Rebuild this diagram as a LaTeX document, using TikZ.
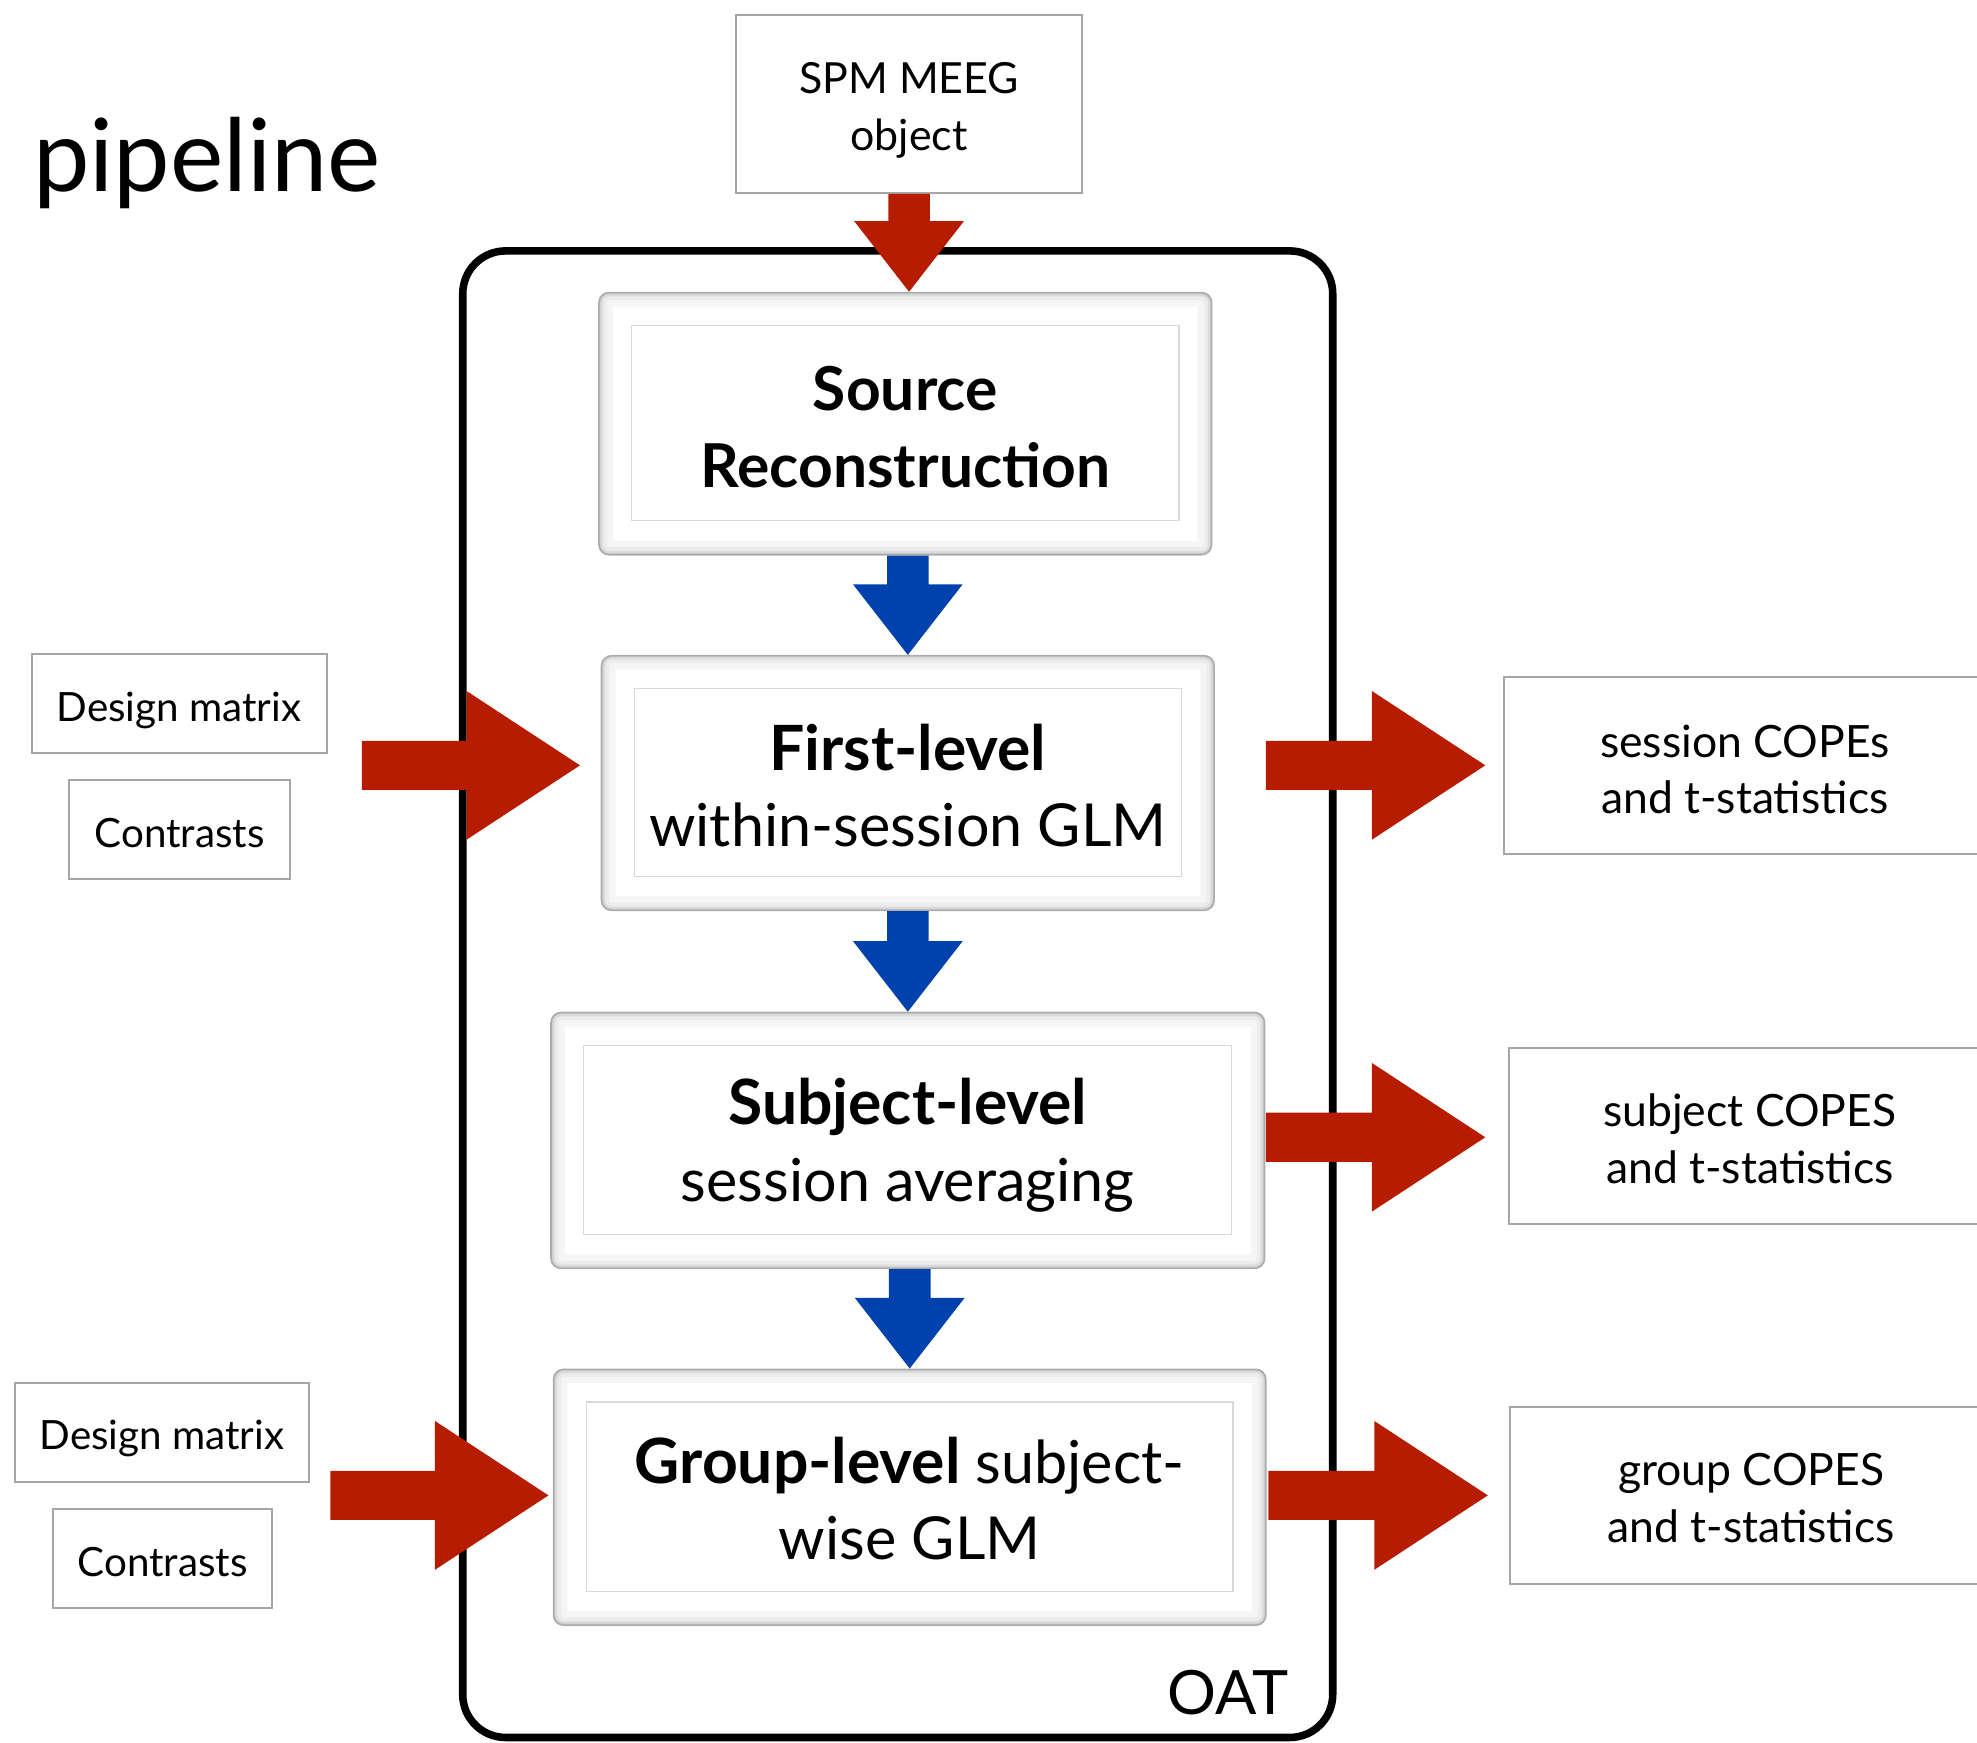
\documentclass[tikz,border=0pt]{standalone}
\usepackage{fontspec}
\setmainfont{Lato}
\usetikzlibrary{calc}
\definecolor{redA}{RGB}{181,28,0}
\definecolor{blueA}{RGB}{0,66,173}
\newcommand\myRarrow[3]{\fill[#3] let \p1=(#1), \p2=(#2) in
  (\x1,\y2+19.5pt) -- (\x2-90pt,\y2+19.5pt) -- (\x2-90pt,\y2+59pt) -- (\x2,\y2) --
  (\x2-90pt,\y2-59pt) -- (\x2-90pt,\y2-19.5pt) -- (\x1,\y2-19.5pt) -- cycle;}
\newcommand\myDarrow[3]{\fill[#3] let \p1=(#1), \p2=(#2) in
  (\x2-16.5pt,\y1) -- (\x2-16.5pt,\y2+56pt) -- (\x2-43.5pt,\y2+56pt) -- (\x2,\y2) --
  (\x2+43.5pt,\y2+56pt) -- (\x2+16.5pt,\y2+56pt) -- (\x2+16.5pt,\y1) -- cycle;}
\newcommand\lowtxt[2][-4pt]{\raisebox{#1}[\height][\depth]{\begin{tabular}{@{}c@{}}#2\end{tabular}}}
\newcommand\bigb{\fontsize{49.5}{61}\selectfont\bfseries}
\newcommand\srcb{\fontsize{48}{61}\selectfont\bfseries}
\begin{document}
\begin{tikzpicture}[x=1pt,y=-1pt,
  procbox/.style={rectangle, rounded corners=8pt, fill=white, draw=gray!65, line width=1.2pt, inner sep=0pt,
    path picture={
      \draw[gray!8, line width=22pt, rounded corners=8pt] (path picture bounding box.south west) rectangle (path picture bounding box.north east);
      \draw[gray!15, line width=12pt, rounded corners=8pt] (path picture bounding box.south west) rectangle (path picture bounding box.north east);
      \draw[gray!28, line width=6pt, rounded corners=8pt] (path picture bounding box.south west) rectangle (path picture bounding box.north east);
      \draw[gray!45, line width=2.5pt, rounded corners=8pt] (path picture bounding box.south west) rectangle (path picture bounding box.north east);
    }},
  innerbox/.style={rectangle, draw=gray!30, line width=1pt, fill=white, inner sep=0pt,
    font=\fontsize{47}{61}\selectfont},
  smallbox/.style={rectangle, draw=gray!70, line width=1.6pt, fill=white, inner sep=0pt,
    minimum height=78pt, font=\fontsize{32}{45}\selectfont},
  outbox/.style={smallbox, minimum height=140pt, minimum width=382pt, font=\fontsize{35.3}{45}\selectfont},
]
\useasboundingbox (0,0) rectangle (1568,1382);

% title
\node[anchor=base west, inner sep=0pt, font=\fontsize{80}{90}\selectfont] (title) at (26,152) {pipeline};

% OAT container
\draw[line width=6pt, rounded corners=34pt] (367,199) rectangle (1057,1378);
\node[anchor=base east, inner sep=0pt, font=\fontsize{48.5}{56}\selectfont] (oat) at (1022,1360) {OAT};

% input
\node[smallbox, minimum width=274pt, minimum height=141pt, font=\fontsize{34}{45}\selectfont] (spm) at (721,82.5) {\lowtxt[-5pt]{SPM MEEG\\object}};

% process boxes
\node[procbox, minimum width=486pt, minimum height=208pt] (src) at (718,336) {};
\node[innerbox, minimum width=434pt, minimum height=155pt] (srcin) at (718,335.5) {\lowtxt[-8.5pt]{{\srcb Source}\\{\srcb Reconstruction}}};

\node[procbox, minimum width=486pt, minimum height=202pt] (first) at (720,621) {};
\node[innerbox, minimum width=434pt, minimum height=149pt] (firstin) at (720,620.5) {\lowtxt[-8.5pt]{{\bigb First-level}\\within-session GLM}};

\node[procbox, minimum width=566pt, minimum height=203pt] (subj) at (720,904.5) {};
\node[innerbox, minimum width=514pt, minimum height=150pt] (subjin) at (720,904) {\lowtxt[-6.5pt]{{\bigb Subject-level}\\session averaging}};

\node[procbox, minimum width=565pt, minimum height=203pt] (grp) at (721.5,1187.5) {};
\node[innerbox, minimum width=513pt, minimum height=150pt] (grpin) at (721.5,1187) {\lowtxt[-7.5pt]{{\bigb Group-level} subject-\\wise GLM}};

% left inputs
\node[smallbox, minimum width=234pt] (dm1) at (142,558) {\lowtxt[-5pt]{Design matrix}};
\node[smallbox, minimum width=175pt] (ct1) at (142.5,658) {\lowtxt[-5pt]{Contrasts}};
\node[smallbox, minimum width=233pt] (dm2) at (128.5,1136) {\lowtxt[-5pt]{Design matrix}};
\node[smallbox, minimum width=174pt] (ct2) at (129,1236) {\lowtxt[-5pt]{Contrasts}};

% outputs
\node[outbox, anchor=west] (out1) at (1192,607) {\lowtxt[-7pt]{session COPEs\\and t-statistics}};
\node[outbox, anchor=west] (out2) at (1196,901) {\lowtxt[-6pt]{subject COPES\\and t-statistics}};
\node[outbox, anchor=west] (out3) at (1197,1186) {\lowtxt[-6pt]{group COPES\\and t-statistics}};

% arrow end points
\coordinate (l1s) at (287,607);
\coordinate (l1t) at (460,607);
\coordinate (l2s) at (262,1186);
\coordinate (l2t) at (435,1186);
\coordinate (r1s) at (1004,607);
\coordinate (r1t) at (1178,607);
\coordinate (r2s) at (1004,902);
\coordinate (r2t) at (1178,902);
\coordinate (r3s) at (1006,1186);
\coordinate (r3t) at (1180,1186);

% vertical arrows
\myDarrow{spm.south}{spm.south |- src.north}{redA}
\myDarrow{src.south}{first.north}{blueA}
\myDarrow{first.south}{subj.north}{blueA}
\myDarrow{subj.south}{grp.north}{blueA}

% horizontal arrows
\myRarrow{l1s}{l1t}{redA}
\myRarrow{l2s}{l2t}{redA}
\myRarrow{r1s}{r1t}{redA}
\myRarrow{r2s}{r2t}{redA}
\myRarrow{r3s}{r3t}{redA}
\end{tikzpicture}
\end{document}
